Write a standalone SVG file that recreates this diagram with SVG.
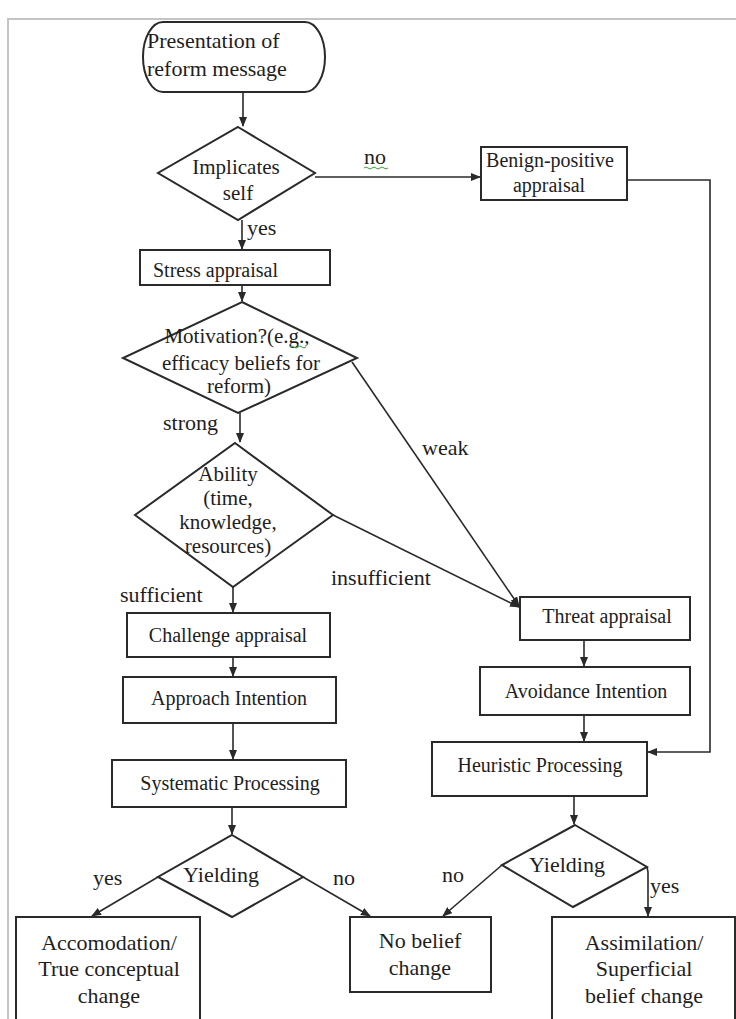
<svg xmlns="http://www.w3.org/2000/svg" width="736" height="1019" viewBox="0 0 736 1019" font-family="'Liberation Serif', 'Times New Roman', 'DejaVu Serif', serif">
<style>
 .bx{fill:#fff;stroke:#2a2a2a;stroke-width:2}
 .ln{fill:none;stroke:#2a2a2a;stroke-width:1.6}
 text{font-family:'Liberation Serif','Times New Roman','DejaVu Serif',serif;fill:#1e1e1e;font-size:20px}
 .c{text-anchor:middle}
 .lb{font-size:22px}
 .dm{font-size:21px}
 .sq{fill:none;stroke:#3a9a3a;stroke-width:1}
</style>
<defs>
 <marker id="ah" markerWidth="10" markerHeight="8" refX="9" refY="4" orient="auto" markerUnits="userSpaceOnUse"><path d="M0,0 L10,4 L0,8 z" fill="#2a2a2a"/></marker>
</defs>
<rect width="736" height="1019" fill="#fff"/>
<path d="M8,1019 V19 H736" fill="none" stroke="#c4c4c4" stroke-width="2"/>

<g id="connectors">
 <path class="ln" marker-end="url(#ah)" d="M243,92 V126"/>
 <path class="ln" marker-end="url(#ah)" d="M315,177 H480"/>
 <path class="ln" marker-end="url(#ah)" d="M242,220 V249"/>
 <path class="ln" marker-end="url(#ah)" d="M242,285 V301"/>
 <path class="ln" marker-end="url(#ah)" d="M240,413 V442"/>
 <path class="ln" marker-end="url(#ah)" d="M352,362 L519,606"/>
 <path class="ln" marker-end="url(#ah)" d="M333,515 L519,607"/>
 <path class="ln" marker-end="url(#ah)" d="M233,587 V612"/>
 <path class="ln" marker-end="url(#ah)" d="M233,657 V676"/>
 <path class="ln" marker-end="url(#ah)" d="M233,723 V759"/>
 <path class="ln" marker-end="url(#ah)" d="M232,807 V834"/>
 <path class="ln" marker-end="url(#ah)" d="M158,877 L92,916"/>
 <path class="ln" marker-end="url(#ah)" d="M303,877 L370,916"/>
 <path class="ln" marker-end="url(#ah)" d="M627,180 H710 V752 H648"/>
 <path class="ln" marker-end="url(#ah)" d="M584,640 V666"/>
 <path class="ln" marker-end="url(#ah)" d="M584,715 V741"/>
 <path class="ln" marker-end="url(#ah)" d="M574,796 V824"/>
 <path class="ln" marker-end="url(#ah)" d="M502,865 L443,916"/>
 <path class="ln" marker-end="url(#ah)" d="M647,867 L648,872 V916"/>
 <text class="lb" x="364" y="164">no</text>
 <path class="sq" d="M364,168 q2,-2 4,0 t4,0 t4,0 t4,0 t4,0 t4,0"/>
 <text class="lb" x="247" y="235">yes</text>
 <text class="lb" x="163" y="430">strong</text>
 <text class="lb" x="422" y="455">weak</text>
 <text class="lb" x="331" y="585">insufficient</text>
 <text class="lb" x="120" y="602">sufficient</text>
 <text class="lb" x="93" y="885">yes</text>
 <text class="lb" x="333" y="885">no</text>
 <text class="lb" x="442" y="882">no</text>
 <text class="lb" x="650" y="893">yes</text>
</g>

<g id="start">
 <rect class="bx" x="143" y="22" width="182" height="70" rx="20" ry="35"/>
 <text class="lb" x="147" y="48">Presentation of</text>
 <text class="lb" x="147" y="76">reform message</text>
</g>
<g id="implicates">
 <polygon class="bx" points="238,127 315,173 238,220 158,173"/>
 <text class="c dm" x="236" y="174">Implicates</text>
 <text class="c dm" x="238" y="200">self</text>
</g>
<g id="benign">
 <rect class="bx" x="481" y="147" width="146" height="53"/>
 <text class="c" x="550" y="167">Benign-positive</text>
 <text class="c" x="549" y="192">appraisal</text>
</g>
<g id="stress">
 <rect class="bx" x="140" y="250" width="190" height="35"/>
 <text x="153" y="277">Stress appraisal</text>
</g>
<g id="motivation">
 <polygon class="bx" points="242,302 357,358 238,413 123,358"/>
 <text class="c dm" x="237" y="343">Motivation?(e.g.,</text>
 <path class="sq" d="M290,347 q2,-2 4,0 t4,0 t4,0 t4,0"/>
 <text class="c dm" x="241" y="370">efficacy beliefs for</text>
 <text class="c dm" x="239" y="393">reform)</text>
</g>
<g id="ability">
 <polygon class="bx" points="235,443 333,515 233,587 135,515"/>
 <text class="c dm" x="228" y="481">Ability</text>
 <text class="c dm" x="228" y="505">(time,</text>
 <text class="c dm" x="228" y="529">knowledge,</text>
 <text class="c dm" x="228" y="553">resources)</text>
</g>
<g id="challenge">
 <rect class="bx" x="127" y="613" width="203" height="44"/>
 <text class="c" x="228" y="642">Challenge appraisal</text>
</g>
<g id="approach">
 <rect class="bx" x="123" y="677" width="213" height="46"/>
 <text class="c" x="229" y="705">Approach Intention</text>
</g>
<g id="systematic">
 <rect class="bx" x="112" y="760" width="234" height="47"/>
 <text class="c" x="230" y="790">Systematic Processing</text>
</g>
<g id="threat">
 <rect class="bx" x="520" y="597" width="170" height="43"/>
 <text class="c" x="607" y="623">Threat appraisal</text>
</g>
<g id="avoidance">
 <rect class="bx" x="480" y="667" width="210" height="48"/>
 <text class="c" x="586" y="698">Avoidance Intention</text>
</g>
<g id="heuristic">
 <rect class="bx" x="432" y="742" width="215" height="54"/>
 <text class="c" x="540" y="772">Heuristic Processing</text>
</g>
<g id="yielding-left">
 <polygon class="bx" points="232,835 303,877 232,917 158,877"/>
 <text class="c lb" x="221" y="882">Yielding</text>
</g>
<g id="yielding-right">
 <polygon class="bx" points="575,825 647,867 573,907 502,865"/>
 <text class="c lb" x="567" y="872">Yielding</text>
</g>
<g id="accomodation">
 <rect class="bx" x="16" y="917" width="184" height="110"/>
 <text class="c lb" x="109" y="950">Accomodation/</text>
 <text class="c lb" x="109" y="976">True conceptual</text>
 <text class="c lb" x="109" y="1003">change</text>
</g>
<g id="nobelief">
 <rect class="bx" x="350" y="917" width="141" height="75"/>
 <text class="c lb" x="420" y="948">No belief</text>
 <text class="c lb" x="420" y="975">change</text>
</g>
<g id="assimilation">
 <rect class="bx" x="552" y="917" width="183" height="110"/>
 <text class="c lb" x="644" y="950">Assimilation/</text>
 <text class="c lb" x="644" y="976">Superficial</text>
 <text class="c lb" x="644" y="1003">belief change</text>
</g>
</svg>
